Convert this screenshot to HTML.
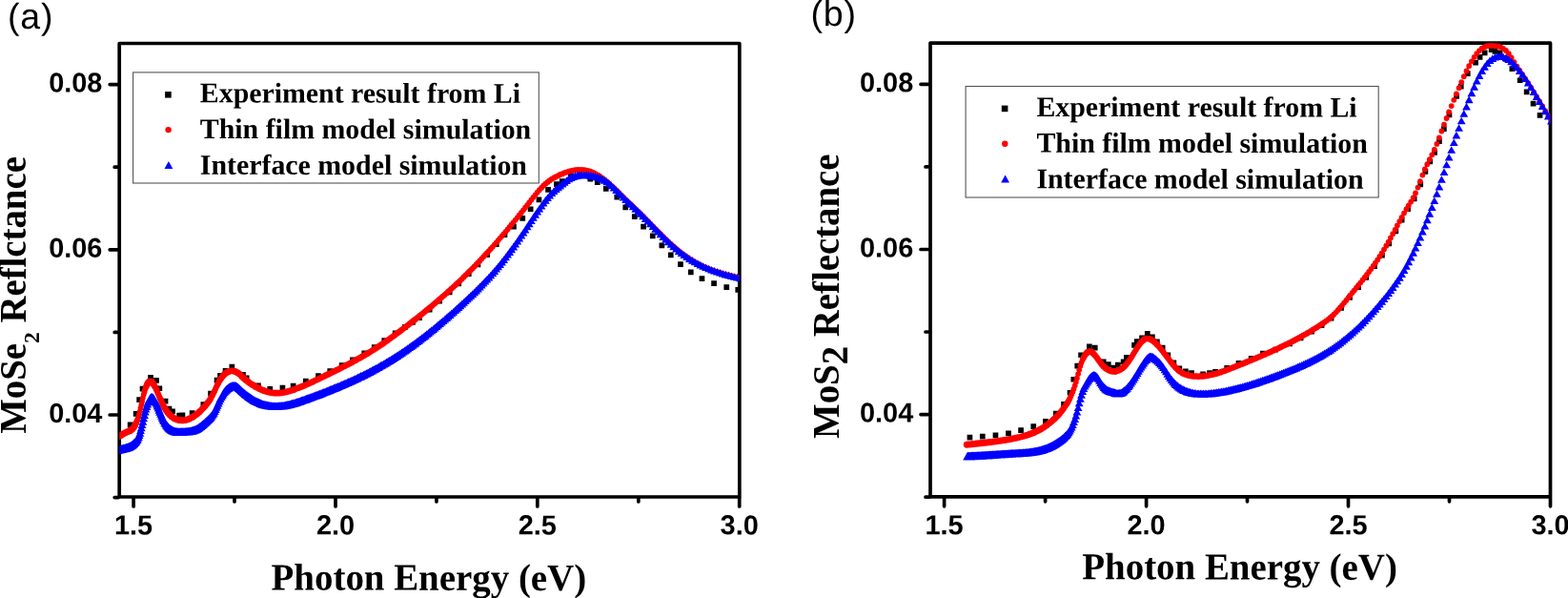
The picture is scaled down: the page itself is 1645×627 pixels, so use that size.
<!DOCTYPE html>
<html lang="en"><head><meta charset="utf-8"><title>Reflectance spectra</title>
<style>html,body{margin:0;padding:0;background:#fff;overflow:hidden}svg{display:block}</style></head><body>
<svg width="1645" height="627" viewBox="0 0 1645 627">
<rect width="1645" height="627" fill="#fff"/>
<clipPath id="ca"><rect x="125.2" y="45.5" width="650.6" height="475.5"/></clipPath>
<g stroke="#000" stroke-width="3.7" stroke-linecap="round" stroke-linejoin="round" fill="none">
<rect x="125.2" y="45.5" width="650.6" height="475.5"/>
<path d="M140.1 522v9.0M352 522v9.0M563.8 522v9.0M775.7 522v9.0M246 522v4.0M457.9 522v4.0M669.8 522v4.0M124.2 435h-9.0M124.2 261.8h-9.0M124.2 88.6h-9.0M124.2 521.6h-4.0M124.2 348.4h-4.0M124.2 175.2h-4.0"/></g>
<g clip-path="url(#ca)">
<path d="M133.8 442.5h5.7v5.7h-5.7zM139.8 431h5.7v5.7h-5.7zM143.3 416.3h5.7v5.7h-5.7zM146.7 404.8h5.7v5.7h-5.7zM155.2 393h5.7v5.7h-5.7zM161.2 396h5.7v5.7h-5.7zM164.5 404.4h5.7v5.7h-5.7zM170.7 417.8h5.7v5.7h-5.7zM174.6 425.7h5.7v5.7h-5.7zM178.2 428.4h5.7v5.7h-5.7zM185.3 432.7h5.7v5.7h-5.7zM188.6 432.5h5.7v5.7h-5.7zM198.8 430.2h5.7v5.7h-5.7zM210.5 421.2h5.7v5.7h-5.7zM218.2 409.8h5.7v5.7h-5.7zM224.7 395.7h5.7v5.7h-5.7zM228.2 390.9h5.7v5.7h-5.7zM233.7 386.1h5.7v5.7h-5.7zM240.5 381.7h5.7v5.7h-5.7zM252.1 389.9h5.7v5.7h-5.7zM255.8 393.5h5.7v5.7h-5.7zM268.1 401.6h5.7v5.7h-5.7zM280.4 405.1h5.7v5.7h-5.7zM293.6 403.8h5.7v5.7h-5.7zM304.8 401.7h5.7v5.7h-5.7zM318 396.8h5.7v5.7h-5.7zM331.1 391.2h5.7v5.7h-5.7zM343.4 386.2h5.7v5.7h-5.7zM355.8 380.3h5.7v5.7h-5.7zM367.1 374.5h5.7v5.7h-5.7zM379.4 367.5h5.7v5.7h-5.7zM389.9 361.3h5.7v5.7h-5.7zM400.4 354.3h5.7v5.7h-5.7zM411.8 346.4h5.7v5.7h-5.7zM422.1 340h5.7v5.7h-5.7zM430.1 335h5.7v5.7h-5.7zM536.1 234.8h5.7v5.7h-5.7zM545.4 226h5.7v5.7h-5.7zM553.8 216.4h5.7v5.7h-5.7zM562.6 206.5h5.7v5.7h-5.7zM572.2 196.1h5.7v5.7h-5.7zM581.1 190.2h5.7v5.7h-5.7zM586.9 187.2h5.7v5.7h-5.7zM595.9 181.8h5.7v5.7h-5.7zM605.1 180.8h5.7v5.7h-5.7zM616.4 184.9h5.7v5.7h-5.7zM623.9 188.3h5.7v5.7h-5.7zM632.9 195h5.7v5.7h-5.7zM644.4 203.8h5.7v5.7h-5.7zM653.4 214.6h5.7v5.7h-5.7zM662.9 224.3h5.7v5.7h-5.7zM672.2 234.8h5.7v5.7h-5.7zM681.9 244.6h5.7v5.7h-5.7zM691.5 254.5h5.7v5.7h-5.7zM700.9 264.5h5.7v5.7h-5.7zM711.1 274.3h5.7v5.7h-5.7zM721.9 282.5h5.7v5.7h-5.7zM733.6 289.2h5.7v5.7h-5.7zM746.2 294.3h5.7v5.7h-5.7zM759.4 298.3h5.7v5.7h-5.7zM771.4 301h5.7v5.7h-5.7zM437.1 330.3h5.7v5.7h-5.7zM447.8 321.7h5.7v5.7h-5.7zM458.2 312.9h5.7v5.7h-5.7zM468.8 303.6h5.7v5.7h-5.7zM478.4 294.6h5.7v5.7h-5.7zM488.9 284.4h5.7v5.7h-5.7zM498.6 274.5h5.7v5.7h-5.7zM508.2 264.2h5.7v5.7h-5.7zM517.9 253.4h5.7v5.7h-5.7zM526.6 243.3h5.7v5.7h-5.7z" fill="#000"/>
<path d="M776.6 291.6h0M773.5 290.7h0M770.4 289.9h0M767.4 289.1h0M764.4 288.3h0M761.3 287.6h0M758.3 286.8h0M755.4 285.9h0M752.4 285h0M749.4 284.1h0M746.5 283h0M743.6 281.9h0M740.6 280.7h0M737.7 279.4h0M734.9 278h0M732 276.5h0M729.1 274.9h0M726.3 273.2h0M723.4 271.4h0M720.6 269.5h0M717.8 267.5h0M715 265.4h0M712.2 263.2h0M709.5 260.9h0M706.7 258.5h0M704 256h0M701.2 253.5h0M698.5 250.9h0M695.8 248.2h0M693.1 245.5h0M690.4 242.8h0M687.7 240.1h0M685.1 237.4h0M682.4 234.7h0M679.8 232h0M677.2 229.4h0M674.6 226.7h0M672 224.2h0M669.4 221.6h0M666.8 219.1h0M664.2 216.7h0M661.7 214.2h0M659.1 211.8h0M656.6 209.3h0M654.1 206.9h0M651.6 204.4h0M649.1 202h0M646.6 199.5h0M644.1 197.1h0M641.6 194.8h0M639.2 192.5h0M636.7 190.4h0M634.3 188.4h0M631.9 186.6h0M629.5 184.9h0M570.1 194.7h0M568 196.9h0M565.8 199.2h0M563.7 201.7h0M561.6 204.3h0M559.4 207h0M557.3 209.7h0M555.2 212.4h0M553.1 215.1h0M551 217.7h0M549 220.3h0M546.9 222.9h0M544.8 225.5h0M542.8 228.1h0M540.7 230.6h0M538.7 233.1h0M536.6 235.5h0M534.6 238h0M532.6 240.4h0M530.6 242.8h0M528.6 245.1h0M526.6 247.5h0M524.6 249.8h0M522.6 252.1h0M520.7 254.3h0M518.7 256.6h0M516.8 258.8h0M514.8 261h0M150.7 413.7h0M149.9 417.1h0M149.1 420.7h0M148.3 424.3h0M147.5 427.9h0M146.8 431.3h0M146 434.4h0" stroke="#f00" stroke-width="5.80" stroke-linecap="round" fill="none"/>
<path d="M627.1 183.4h0M624.7 182.1h0M574.5 190.9h0M572.3 192.7h0M512.9 263.1h0M510.9 265.2h0M509 267.3h0M507.1 269.4h0M505.2 271.5h0M503.3 273.5h0M501.4 275.5h0M499.5 277.5h0M497.6 279.4h0M151.5 410.7h0M145.2 437.1h0" stroke="#f00" stroke-width="5.90" stroke-linecap="round" fill="none"/>
<path d="M622.3 180.9h0M619.9 180h0M581.1 186.5h0M578.9 187.8h0M576.7 189.3h0M495.7 281.4h0M493.9 283.3h0M492 285.1h0M490.2 287h0M488.3 288.8h0M486.5 290.6h0M484.7 292.4h0M482.8 294.2h0M481 295.9h0M144.4 439.5h0" stroke="#f00" stroke-width="6.00" stroke-linecap="round" fill="none"/>
<path d="M617.6 179.2h0M615.2 178.7h0M612.9 178.3h0M610.5 178.1h0M608.2 178h0M605.9 178.1h0M603.6 178.3h0M601.3 178.7h0M599 179.2h0M596.7 179.8h0M594.5 180.5h0M592.2 181.3h0M590 182.2h0M587.7 183.1h0M585.5 184.2h0M583.3 185.3h0M479.2 297.6h0M477.4 299.3h0M475.6 301h0M473.8 302.6h0M472 304.3h0M470.2 305.9h0M468.5 307.5h0M466.7 309h0M464.9 310.6h0M463.2 312.1h0M461.4 313.6h0M227.1 405.5h0M226.2 407.6h0M225.2 409.8h0M152.3 408.1h0" stroke="#f00" stroke-width="6.10" stroke-linecap="round" fill="none"/>
<path d="M459.7 315.1h0M458 316.6h0M456.2 318.1h0M454.5 319.6h0M452.8 321h0M451.1 322.4h0M449.4 323.8h0M447.7 325.2h0M446 326.6h0M444.3 328h0M442.6 329.3h0M441 330.7h0M439.3 332h0M437.6 333.3h0M436 334.7h0M228.1 403.4h0M224.2 411.8h0M223.2 413.8h0M167.8 417.4h0M167 415.5h0M166.2 413.5h0M165.3 411.5h0M164.5 409.5h0M143.6 441.7h0" stroke="#f00" stroke-width="6.20" stroke-linecap="round" fill="none"/>
<path d="M434.3 336h0M432.7 337.2h0M431.1 338.5h0M429.4 339.8h0M427.8 341.1h0M426.2 342.3h0M424.6 343.5h0M423 344.8h0M421.4 346h0M419.8 347.2h0M418.2 348.4h0M416.6 349.6h0M415 350.7h0M413.4 351.9h0M411.9 353.1h0M410.3 354.2h0M408.7 355.3h0M407.2 356.4h0M230.1 399.5h0M229.1 401.4h0M222.2 415.6h0M221.2 417.3h0M170.4 423.1h0M169.5 421.3h0M168.7 419.4h0M163.7 407.7h0M162.8 405.9h0M153.1 405.8h0M142.8 443.5h0" stroke="#f00" stroke-width="6.30" stroke-linecap="round" fill="none"/>
<path d="M405.6 357.5h0M404.1 358.6h0M402.6 359.7h0M401 360.7h0M399.5 361.7h0M398 362.8h0M396.5 363.8h0M394.9 364.8h0M393.4 365.7h0M391.9 366.7h0M390.4 367.6h0M388.9 368.6h0M387.5 369.5h0M386 370.4h0M384.5 371.2h0M383 372.1h0M231.1 397.9h0M220.3 418.9h0M219.3 420.4h0M218.3 421.8h0M172 426.4h0M171.2 424.8h0M162 404.4h0M153.9 403.9h0M142.1 445.2h0" stroke="#f00" stroke-width="6.40" stroke-linecap="round" fill="none"/>
<path d="M381.6 373h0M380.1 373.8h0M378.6 374.7h0M377.2 375.5h0M375.7 376.3h0M374.3 377.1h0M372.9 377.9h0M371.4 378.6h0M370 379.4h0M368.6 380.2h0M367.2 380.9h0M365.7 381.7h0M364.3 382.4h0M362.9 383.1h0M361.5 383.9h0M360.1 384.6h0M358.7 385.3h0M357.4 386h0M356 386.7h0M354.6 387.4h0M353.2 388h0M351.9 388.7h0M350.5 389.4h0M349.1 390.1h0M347.8 390.7h0M346.4 391.4h0M345.1 392.1h0M233.2 395h0M232.1 396.4h0M217.3 423.1h0M216.4 424.3h0M215.4 425.5h0M173.8 429.3h0M172.9 427.9h0M161.2 403h0M141.3 446.6h0" stroke="#f00" stroke-width="6.50" stroke-linecap="round" fill="none"/>
<path d="M343.7 392.7h0M342.4 393.4h0M341.1 394h0M339.7 394.7h0M338.4 395.3h0M337.1 396h0M335.8 396.6h0M334.5 397.3h0M333.1 397.9h0M331.8 398.5h0M330.5 399.1h0M329.2 399.8h0M328 400.4h0M326.7 401h0M325.4 401.6h0M324.1 402.1h0M322.8 402.7h0M321.5 403.3h0M320.3 403.8h0M319 404.4h0M317.8 404.9h0M316.5 405.4h0M315.2 405.9h0M314 406.4h0M312.7 406.9h0M311.5 407.3h0M310.3 407.8h0M309 408.2h0M263.7 402.7h0M262.6 402h0M261.5 401.2h0M260.4 400.4h0M259.3 399.6h0M258.2 398.8h0M257.2 397.9h0M256.1 396.9h0M255 395.9h0M253.9 394.9h0M252.9 393.8h0M251.8 392.8h0M250.8 391.9h0M249.7 391.1h0M235.2 392.8h0M234.2 393.8h0M214.4 426.6h0M213.5 427.6h0M212.5 428.6h0M211.6 429.6h0M210.6 430.5h0M209.7 431.4h0M176.3 433h0M175.5 431.9h0M174.6 430.7h0M160.4 401.8h0M154.7 402.4h0M140.5 447.8h0" stroke="#f00" stroke-width="6.60" stroke-linecap="round" fill="none"/>
<path d="M307.8 408.7h0M306.6 409.1h0M305.4 409.4h0M304.1 409.8h0M302.9 410.2h0M301.7 410.5h0M300.5 410.8h0M299.3 411.1h0M298.1 411.4h0M296.9 411.6h0M295.7 411.8h0M294.5 411.9h0M293.3 412.1h0M292.1 412.1h0M291 412.2h0M289.8 412.2h0M288.6 412.1h0M287.5 412.1h0M286.3 411.9h0M285.1 411.8h0M284 411.6h0M282.8 411.3h0M281.7 411.1h0M280.5 410.8h0M279.4 410.4h0M278.2 410.1h0M277.1 409.7h0M276 409.2h0M274.8 408.8h0M273.7 408.3h0M272.6 407.7h0M271.5 407.2h0M270.3 406.6h0M269.2 406h0M268.1 405.4h0M267 404.7h0M265.9 404.1h0M264.8 403.4h0M248.6 390.4h0M247.6 389.8h0M246.5 389.4h0M239.3 389.8h0M238.2 390.4h0M237.2 391h0M236.2 391.8h0M208.7 432.3h0M207.8 433.1h0M206.9 433.9h0M205.9 434.6h0M205 435.3h0M204 436h0M203.1 436.6h0M179.8 436.5h0M178.9 435.8h0M178 434.9h0M177.2 434h0M159.6 400.9h0M155.5 401.3h0M139.8 448.8h0M139 449.6h0" stroke="#f00" stroke-width="6.70" stroke-linecap="round" fill="none"/>
<path d="M245.5 389.1h0M244.4 388.9h0M243.4 388.8h0M242.4 388.9h0M241.3 389.1h0M240.3 389.4h0M202.2 437.2h0M201.3 437.8h0M200.3 438.3h0M199.4 438.7h0M198.5 439.2h0M197.6 439.5h0M196.7 439.9h0M195.8 440.1h0M194.9 440.4h0M194 440.6h0M193 440.7h0M192.1 440.8h0M187.7 440.5h0M186.8 440.3h0M185.9 440h0M185 439.7h0M184.1 439.3h0M183.3 438.9h0M182.4 438.4h0M181.5 437.8h0M180.6 437.2h0M158.7 400.3h0M156.3 400.5h0M138.2 450.4h0M137.5 450.9h0M136.7 451.4h0" stroke="#f00" stroke-width="6.80" stroke-linecap="round" fill="none"/>
<path d="M191.2 440.8h0M190.4 440.8h0M189.5 440.8h0M188.6 440.6h0M157.9 400h0M157.1 400h0M135.9 451.8h0M135.2 452.2h0M134.4 452.5h0M133.7 452.8h0M132.9 453.1h0M132.2 453.5h0M131.4 453.8h0M130.7 454.2h0M129.9 454.6h0M129.2 455h0M128.4 455.5h0M127.7 455.9h0M127 456.4h0M126.2 456.8h0M125.5 457.2h0M124.8 457.6h0M124 458.1h0M123.3 458.5h0M122.6 458.8h0" stroke="#f00" stroke-width="6.90" stroke-linecap="round" fill="none"/>
<path d="M776.6 287.6l4.4 7.6h-8.8zM773.5 286.9l4.4 7.6h-8.8zM770.4 286.2l4.4 7.6h-8.8zM767.4 285.4l4.4 7.6h-8.8zM764.4 284.6l4.4 7.6h-8.8zM761.3 283.8l4.4 7.6h-8.8zM758.3 282.9l4.4 7.6h-8.8zM755.4 282l4.4 7.6h-8.8zM752.4 281l4.4 7.6h-8.8zM749.4 280l4.4 7.6h-8.8zM746.5 278.9l4.4 7.6h-8.8zM743.6 277.7l4.4 7.6h-8.8zM740.6 276.5l4.4 7.6h-8.8zM737.7 275.2l4.4 7.6h-8.8zM734.9 273.8l4.4 7.6h-8.8zM732 272.3l4.4 7.6h-8.8zM729.1 270.7l4.4 7.6h-8.8zM726.3 269.1l4.4 7.6h-8.8zM723.4 267.3l4.4 7.6h-8.8zM720.6 265.5l4.4 7.6h-8.8zM717.8 263.5l4.4 7.6h-8.8zM715 261.5l4.4 7.6h-8.8zM712.2 259.3l4.4 7.6h-8.8zM709.5 257l4.4 7.6h-8.8zM706.7 254.6l4.4 7.6h-8.8zM704 252.2l4.4 7.6h-8.8zM701.2 249.6l4.4 7.6h-8.8zM698.5 247l4.4 7.6h-8.8zM695.8 244.3l4.4 7.6h-8.8zM693.1 241.6l4.4 7.6h-8.8zM690.4 238.8l4.4 7.6h-8.8zM687.7 236.1l4.4 7.6h-8.8zM685.1 233.4l4.4 7.6h-8.8zM682.4 230.6l4.4 7.6h-8.8zM679.8 227.9l4.4 7.6h-8.8zM677.2 225.3l4.4 7.6h-8.8zM674.6 222.6l4.4 7.6h-8.8zM672 220.1l4.4 7.6h-8.8zM669.4 217.6l4.4 7.6h-8.8zM666.8 215.1l4.4 7.6h-8.8zM664.2 212.6l4.4 7.6h-8.8zM661.7 210.2l4.4 7.6h-8.8zM659.1 207.8l4.4 7.6h-8.8zM656.6 205.4l4.4 7.6h-8.8zM654.1 202.9l4.4 7.6h-8.8zM651.6 200.5l4.4 7.6h-8.8zM649.1 198l4.4 7.6h-8.8zM646.6 195.5l4.4 7.6h-8.8zM644.1 193l4.4 7.6h-8.8zM641.6 190.7l4.4 7.6h-8.8zM639.2 188.5l4.4 7.6h-8.8zM636.7 186.7l4.4 7.6h-8.8zM634.3 185.1l4.4 7.7h-8.8zM631.9 183.7l4.4 7.7h-8.9zM629.5 182.6l4.5 7.8h-8.9zM627.1 181.7l4.5 7.8h-9zM624.7 181l4.5 7.9h-9zM622.3 180.4l4.5 7.9h-9zM619.9 180l4.5 7.9h-9zM617.6 179.7l4.5 7.9h-9zM615.2 179.6l4.5 7.9h-9zM612.9 179.5l4.5 7.9h-9zM610.5 179.4l4.5 7.9h-9zM608.2 179.5l4.5 7.9h-9zM605.9 179.8l4.5 7.9h-9zM603.6 180.3l4.5 7.9h-9zM601.3 181l4.5 7.9h-9zM599 182.1l4.5 7.8h-9zM596.7 183.5l4.5 7.8h-8.9zM594.5 185.2l4.4 7.7h-8.9zM592.2 187.1l4.4 7.6h-8.8zM590 189l4.4 7.6h-8.8zM587.7 190.8l4.4 7.7h-8.9zM585.5 192.5l4.4 7.7h-8.9zM583.3 194.3l4.4 7.7h-8.9zM581.1 196.3l4.4 7.6h-8.8zM578.9 198.5l4.4 7.6h-8.8zM576.7 200.9l4.4 7.6h-8.8zM574.5 203.4l4.4 7.6h-8.8zM572.3 206.1l4.4 7.6h-8.8zM570.1 209l4.4 7.6h-8.8zM568 211.9l4.4 7.6h-8.8zM565.8 214.9l4.4 7.6h-8.8zM563.7 218l4.4 7.6h-8.8zM561.6 221.1l4.4 7.6h-8.8zM559.4 224.2l4.4 7.6h-8.8zM557.3 227.4l4.4 7.6h-8.8zM555.2 230.6l4.4 7.6h-8.8zM553.1 233.7l4.4 7.6h-8.8zM551 236.9l4.4 7.6h-8.8zM549 240l4.4 7.6h-8.8zM546.9 243l4.4 7.6h-8.8zM544.8 246l4.4 7.6h-8.8zM542.8 249l4.4 7.6h-8.8zM540.7 251.9l4.4 7.6h-8.8zM538.7 254.8l4.4 7.6h-8.8zM536.6 257.6l4.4 7.6h-8.8zM534.6 260.3l4.4 7.6h-8.8zM532.6 263l4.4 7.6h-8.8zM530.6 265.7l4.4 7.6h-8.8zM528.6 268.3l4.4 7.6h-8.8zM526.6 270.8l4.4 7.6h-8.8zM524.6 273.3l4.4 7.6h-8.8zM522.6 275.7l4.4 7.6h-8.8zM520.7 278l4.4 7.6h-8.8zM518.7 280.3l4.4 7.6h-8.8zM516.8 282.5l4.4 7.6h-8.8zM514.8 284.7l4.4 7.6h-8.8zM512.9 286.8l4.4 7.7h-8.8zM510.9 288.9l4.4 7.7h-8.9zM509 290.9l4.4 7.7h-8.9zM507.1 292.9l4.4 7.7h-8.9zM505.2 294.9l4.4 7.7h-8.9zM503.3 296.8l4.5 7.7h-8.9zM501.4 298.7l4.5 7.8h-8.9zM499.5 300.6l4.5 7.8h-8.9zM497.6 302.4l4.5 7.8h-8.9zM495.7 304.2l4.5 7.8h-8.9zM493.9 306l4.5 7.8h-9zM492 307.8l4.5 7.8h-9zM490.2 309.5l4.5 7.8h-9zM488.3 311.2l4.5 7.8h-9zM486.5 312.9l4.5 7.8h-9zM484.7 314.6l4.5 7.9h-9zM482.8 316.3l4.5 7.9h-9zM481 318l4.5 7.9h-9zM479.2 319.6l4.5 7.9h-9zM477.4 321.2l4.5 7.9h-9zM475.6 322.9l4.5 7.9h-9zM473.8 324.4l4.5 7.9h-9zM472 326l4.5 7.9h-9zM470.2 327.6l4.5 7.9h-9zM468.5 329.1l4.5 7.9h-9zM466.7 330.7l4.5 7.9h-9zM464.9 332.2l4.5 7.9h-9zM463.2 333.7l4.5 7.9h-9.1zM461.4 335.1l4.5 8h-9.1zM459.7 336.6l4.5 8h-9.1zM458 338l4.5 8h-9.1zM456.2 339.5l4.5 8h-9.1zM454.5 340.9l4.5 8h-9.1zM452.8 342.3l4.5 8h-9.1zM451.1 343.6l4.5 8h-9.1zM449.4 345l4.5 8h-9.1zM447.7 346.3l4.6 8h-9.1zM446 347.7l4.6 8h-9.1zM444.3 349l4.6 8h-9.1zM442.6 350.3l4.6 8h-9.1zM441 351.5l4.6 8h-9.1zM439.3 352.8l4.6 8.1h-9.1zM437.6 354l4.6 8.1h-9.1zM436 355.3l4.6 8.1h-9.1zM434.3 356.5l4.6 8.1h-9.1zM432.7 357.7l4.6 8.1h-9.2zM431.1 358.8l4.6 8.1h-9.2zM429.4 360l4.6 8.1h-9.2zM427.8 361.2l4.6 8.1h-9.2zM426.2 362.3l4.6 8.1h-9.2zM424.6 363.4l4.6 8.1h-9.2zM423 364.5l4.6 8.1h-9.2zM421.4 365.6l4.6 8.1h-9.2zM419.8 366.7l4.6 8.1h-9.2zM418.2 367.7l4.6 8.1h-9.2zM416.6 368.7l4.6 8.2h-9.2zM415 369.8l4.6 8.2h-9.2zM413.4 370.8l4.6 8.2h-9.2zM411.9 371.8l4.6 8.2h-9.2zM410.3 372.7l4.6 8.2h-9.2zM408.7 373.7l4.6 8.2h-9.2zM407.2 374.6l4.6 8.2h-9.2zM405.6 375.6l4.6 8.2h-9.2zM404.1 376.5l4.6 8.2h-9.2zM402.6 377.4l4.6 8.2h-9.2zM401 378.3l4.6 8.2h-9.2zM399.5 379.1l4.6 8.2h-9.3zM398 380l4.6 8.2h-9.3zM396.5 380.9l4.6 8.2h-9.3zM394.9 381.7l4.6 8.2h-9.3zM393.4 382.5l4.6 8.2h-9.3zM391.9 383.3l4.6 8.2h-9.3zM390.4 384.1l4.6 8.3h-9.3zM388.9 384.9l4.6 8.3h-9.3zM387.5 385.7l4.6 8.3h-9.3zM386 386.5l4.6 8.3h-9.3zM384.5 387.2l4.6 8.3h-9.3zM383 387.9l4.6 8.3h-9.3zM381.6 388.7l4.6 8.3h-9.3zM380.1 389.4l4.6 8.3h-9.3zM378.6 390.1l4.7 8.3h-9.3zM377.2 390.8l4.7 8.3h-9.3zM375.7 391.5l4.7 8.3h-9.3zM374.3 392.2l4.7 8.3h-9.3zM372.9 392.9l4.7 8.3h-9.3zM371.4 393.5l4.7 8.3h-9.3zM370 394.2l4.7 8.3h-9.3zM368.6 394.9l4.7 8.3h-9.3zM367.2 395.5l4.7 8.3h-9.3zM365.7 396.1l4.7 8.3h-9.3zM364.3 396.8l4.7 8.3h-9.3zM362.9 397.4l4.7 8.3h-9.3zM361.5 398l4.7 8.3h-9.3zM360.1 398.6l4.7 8.3h-9.3zM358.7 399.2l4.7 8.3h-9.3zM357.4 399.8l4.7 8.3h-9.3zM356 400.4l4.7 8.3h-9.3zM354.6 400.9l4.7 8.4h-9.3zM353.2 401.5l4.7 8.4h-9.3zM351.9 402.1l4.7 8.4h-9.4zM350.5 402.6l4.7 8.4h-9.4zM349.1 403.2l4.7 8.4h-9.4zM347.8 403.7l4.7 8.4h-9.4zM346.4 404.3l4.7 8.4h-9.4zM345.1 404.8l4.7 8.4h-9.4zM343.7 405.4l4.7 8.4h-9.4zM342.4 405.9l4.7 8.4h-9.4zM341.1 406.4l4.7 8.4h-9.4zM339.7 406.9l4.7 8.4h-9.4zM338.4 407.4l4.7 8.4h-9.4zM337.1 408l4.7 8.4h-9.4zM335.8 408.5l4.7 8.4h-9.4zM334.5 409l4.7 8.4h-9.4zM333.1 409.5l4.7 8.4h-9.4zM331.8 410l4.7 8.4h-9.4zM330.5 410.4l4.7 8.4h-9.4zM329.2 410.9l4.7 8.4h-9.4zM328 411.4l4.7 8.4h-9.4zM326.7 411.9l4.7 8.4h-9.4zM325.4 412.4l4.7 8.4h-9.4zM324.1 412.8l4.7 8.4h-9.4zM322.8 413.3l4.7 8.4h-9.4zM321.5 413.8l4.7 8.4h-9.4zM320.3 414.3l4.7 8.4h-9.4zM319 414.7l4.7 8.4h-9.4zM317.8 415.2l4.7 8.4h-9.4zM316.5 415.6l4.7 8.4h-9.4zM315.2 416l4.7 8.4h-9.4zM314 416.5l4.7 8.4h-9.4zM312.7 416.9l4.7 8.4h-9.4zM311.5 417.3l4.7 8.4h-9.4zM310.3 417.7l4.7 8.5h-9.4zM309 418.1l4.7 8.5h-9.4zM307.8 418.4l4.7 8.5h-9.4zM306.6 418.8l4.7 8.5h-9.4zM305.4 419.1l4.7 8.5h-9.4zM304.1 419.4l4.7 8.5h-9.4zM302.9 419.7l4.7 8.5h-9.4zM301.7 420l4.7 8.5h-9.4zM300.5 420.2l4.7 8.5h-9.4zM299.3 420.5l4.7 8.5h-9.4zM298.1 420.7l4.7 8.5h-9.4zM296.9 420.9l4.7 8.5h-9.5zM295.7 421l4.7 8.5h-9.5zM294.5 421.2l4.7 8.5h-9.5zM293.3 421.3l4.7 8.5h-9.5zM292.1 421.3l4.7 8.5h-9.5zM291 421.4l4.7 8.5h-9.5zM289.8 421.4l4.7 8.5h-9.5zM288.6 421.4l4.7 8.5h-9.5zM287.5 421.4l4.7 8.5h-9.5zM286.3 421.4l4.7 8.5h-9.5zM285.1 421.3l4.7 8.5h-9.5zM284 421.1l4.7 8.5h-9.5zM282.8 421l4.7 8.5h-9.5zM281.7 420.8l4.7 8.5h-9.5zM280.5 420.6l4.7 8.5h-9.5zM279.4 420.3l4.7 8.5h-9.5zM278.2 420l4.7 8.5h-9.5zM277.1 419.7l4.7 8.5h-9.5zM276 419.4l4.7 8.5h-9.5zM274.8 419l4.7 8.5h-9.5zM273.7 418.6l4.7 8.5h-9.5zM272.6 418.1l4.7 8.5h-9.4zM271.5 417.6l4.7 8.5h-9.4zM270.3 417.1l4.7 8.5h-9.4zM269.2 416.6l4.7 8.5h-9.4zM268.1 416l4.7 8.5h-9.4zM267 415.4l4.7 8.5h-9.4zM265.9 414.7l4.7 8.5h-9.4zM264.8 414l4.7 8.5h-9.4zM263.7 413.3l4.7 8.4h-9.4zM262.6 412.6l4.7 8.4h-9.4zM261.5 411.8l4.7 8.4h-9.4zM260.4 411l4.7 8.4h-9.4zM259.3 410.2l4.7 8.4h-9.4zM258.2 409.4l4.7 8.4h-9.4zM257.2 408.5l4.7 8.4h-9.4zM256.1 407.6l4.7 8.4h-9.4zM255 406.7l4.7 8.4h-9.4zM253.9 405.7l4.7 8.4h-9.4zM252.9 404.7l4.7 8.4h-9.4zM251.8 403.7l4.7 8.4h-9.4zM250.8 402.7l4.7 8.4h-9.4zM249.7 401.8l4.7 8.4h-9.4zM248.6 400.9l4.7 8.4h-9.4zM247.6 400.3l4.7 8.5h-9.5zM246.5 400l4.7 8.5h-9.5zM245.5 399.9l4.8 8.6h-9.5zM244.4 400l4.8 8.6h-9.5zM243.4 400.3l4.7 8.6h-9.5zM242.4 400.7l4.7 8.5h-9.5zM241.3 401.1l4.7 8.5h-9.5zM240.3 401.7l4.7 8.5h-9.5zM239.3 402.4l4.7 8.5h-9.4zM238.2 403.3l4.7 8.4h-9.4zM237.2 404.3l4.7 8.4h-9.4zM236.2 405.5l4.7 8.3h-9.3zM235.2 406.8l4.6 8.3h-9.3zM234.2 408.3l4.6 8.2h-9.2zM233.2 410.1l4.6 8.1h-9.2zM232.1 412l4.6 8h-9.1zM231.1 414.1l4.5 8h-9.1zM230.1 416.3l4.5 7.9h-9zM229.1 418.5l4.5 7.9h-9zM228.1 420.8l4.5 7.9h-9zM227.1 422.9l4.5 7.9h-9zM226.2 425l4.5 7.9h-9.1zM225.2 426.9l4.5 8h-9.1zM224.2 428.6l4.6 8.1h-9.2zM223.2 430.1l4.6 8.2h-9.2zM222.2 431.3l4.6 8.3h-9.3zM221.2 432.5l4.7 8.3h-9.3zM220.3 433.5l4.7 8.4h-9.4zM219.3 434.5l4.7 8.4h-9.4zM218.3 435.5l4.7 8.4h-9.4zM217.3 436.4l4.7 8.4h-9.4zM216.4 437.3l4.7 8.4h-9.4zM215.4 438.3l4.7 8.4h-9.4zM214.4 439.2l4.7 8.4h-9.4zM213.5 440l4.7 8.5h-9.4zM212.5 440.8l4.7 8.5h-9.4zM211.6 441.6l4.7 8.5h-9.4zM210.6 442.4l4.7 8.5h-9.4zM209.7 443.1l4.7 8.5h-9.5zM208.7 443.8l4.7 8.5h-9.5zM207.8 444.4l4.7 8.5h-9.5zM206.9 444.9l4.7 8.6h-9.5zM205.9 445.4l4.8 8.6h-9.5zM205 445.9l4.8 8.6h-9.5zM204 446.2l4.8 8.6h-9.5zM203.1 446.6l4.8 8.6h-9.5zM202.2 446.9l4.8 8.6h-9.5zM201.3 447.1l4.8 8.6h-9.5zM200.3 447.4l4.8 8.6h-9.5zM199.4 447.5l4.8 8.6h-9.5zM198.5 447.7l4.8 8.6h-9.6zM197.6 447.8l4.8 8.6h-9.6zM196.7 447.9l4.8 8.6h-9.6zM195.8 448l4.8 8.6h-9.6zM194.9 448.1l4.8 8.6h-9.6zM194 448.2l4.8 8.6h-9.6zM193 448.2l4.8 8.6h-9.6zM192.1 448.3l4.8 8.6h-9.6zM191.2 448.3l4.8 8.7h-9.6zM190.4 448.3l4.8 8.7h-9.6zM189.5 448.3l4.8 8.7h-9.6zM188.6 448.4l4.8 8.7h-9.6zM187.7 448.3l4.8 8.7h-9.6zM186.8 448.3l4.8 8.7h-9.6zM185.9 448.2l4.8 8.7h-9.6zM185 448.1l4.8 8.7h-9.6zM184.1 447.9l4.8 8.7h-9.6zM183.3 447.7l4.8 8.6h-9.6zM182.4 447.4l4.8 8.6h-9.6zM181.5 447l4.8 8.6h-9.5zM180.6 446.6l4.8 8.6h-9.5zM179.8 446.1l4.8 8.6h-9.5zM178.9 445.5l4.8 8.6h-9.5zM178 444.8l4.7 8.5h-9.5zM177.2 444l4.7 8.5h-9.5zM176.3 443.1l4.7 8.5h-9.4zM175.5 442.1l4.7 8.4h-9.4zM174.6 441l4.7 8.4h-9.4zM173.8 439.8l4.7 8.3h-9.3zM172.9 438.4l4.7 8.3h-9.3zM172 436.9l4.6 8.2h-9.3zM171.2 435.3l4.6 8.2h-9.2zM170.4 433.6l4.6 8.1h-9.2zM169.5 431.7l4.6 8.1h-9.1zM168.7 429.8l4.6 8h-9.1zM167.8 427.8l4.5 8h-9.1zM167 425.7l4.5 8h-9.1zM166.2 423.6l4.5 8h-9.1zM165.3 421.5l4.5 8h-9.1zM164.5 419.5l4.6 8h-9.1zM163.7 417.6l4.6 8.1h-9.2zM162.8 415.9l4.6 8.2h-9.2zM162 414.5l4.6 8.3h-9.3zM161.2 413.3l4.7 8.4h-9.4zM160.4 412.5l4.7 8.5h-9.5zM159.6 412.1l4.8 8.7h-9.6zM158.7 412.1l4.8 8.7h-9.6zM157.9 412.7l4.8 8.6h-9.5zM157.1 413.8l4.7 8.5h-9.4zM156.3 415.3l4.6 8.3h-9.3zM155.5 417.2l4.6 8.1h-9.2zM154.7 419.5l4.5 7.9h-9zM153.9 422.1l4.5 7.8h-8.9zM153.1 424.9l4.4 7.6h-8.8zM152.3 428l4.4 7.6h-8.8zM151.5 431.3l4.4 7.6h-8.8zM150.7 434.7l4.4 7.6h-8.8zM149.9 438.1l4.4 7.6h-8.8zM149.1 441.4l4.4 7.6h-8.8zM148.3 444.6l4.4 7.6h-8.8zM147.5 447.5l4.4 7.6h-8.8zM146.8 449.9l4.5 7.8h-8.9zM146 452l4.5 7.9h-9zM145.2 453.8l4.6 8.1h-9.2zM144.4 455.3l4.6 8.2h-9.2zM143.6 456.6l4.7 8.3h-9.3zM142.8 457.8l4.7 8.4h-9.4zM142.1 458.7l4.7 8.5h-9.4zM141.3 459.6l4.7 8.5h-9.5zM140.5 460.3l4.7 8.6h-9.5zM139.8 461l4.8 8.6h-9.5zM139 461.7l4.8 8.6h-9.5zM138.2 462.2l4.8 8.6h-9.5zM137.5 462.7l4.8 8.6h-9.6zM136.7 463.2l4.8 8.7h-9.6zM135.9 463.6l4.8 8.7h-9.6zM135.2 464l4.8 8.7h-9.6zM134.4 464.3l4.8 8.7h-9.6zM133.7 464.6l4.8 8.7h-9.6zM132.9 464.8l4.8 8.7h-9.6zM132.2 465.1l4.8 8.7h-9.6zM131.4 465.3l4.8 8.7h-9.6zM130.7 465.5l4.8 8.7h-9.6zM129.9 465.6l4.8 8.7h-9.6zM129.2 465.8l4.8 8.7h-9.6zM128.4 466l4.8 8.7h-9.6zM127.7 466.2l4.8 8.7h-9.6zM127 466.3l4.8 8.7h-9.6zM126.2 466.5l4.8 8.7h-9.6zM125.5 466.7l4.8 8.7h-9.6zM124.8 466.9l4.8 8.7h-9.6zM124 467.1l4.8 8.7h-9.6zM123.3 467.4l4.8 8.7h-9.6zM122.6 467.6l4.8 8.7h-9.6z" fill="#00f"/>
</g>
<g font-family="'Liberation Sans', Arial, sans-serif" font-weight="bold" font-size="28.9px" fill="#000">
<text transform="translate(140.1 560.4) rotate(0.1) scale(1 1.0)" text-anchor="middle">1.5</text>
<text transform="translate(352 560.4) rotate(0.1) scale(1 1.0)" text-anchor="middle">2.0</text>
<text transform="translate(563.8 560.4) rotate(0.1) scale(1 1.0)" text-anchor="middle">2.5</text>
<text transform="translate(775.7 560.4) rotate(0.1) scale(1 1.0)" text-anchor="middle">3.0</text>
<text transform="translate(107.4 443) rotate(0.1) scale(1 1.0)" text-anchor="end">0.04</text>
<text transform="translate(107.4 269.8) rotate(0.1) scale(1 1.0)" text-anchor="end">0.06</text>
<text transform="translate(107.4 96.6) rotate(0.1) scale(1 1.0)" text-anchor="end">0.08</text>
</g>
<clipPath id="cb"><rect x="976" y="45.1" width="650.5" height="475.7"/></clipPath>
<g stroke="#000" stroke-width="3.7" stroke-linecap="round" stroke-linejoin="round" fill="none">
<rect x="976" y="45.1" width="650.5" height="475.7"/>
<path d="M990.6 521.8v9.0M1202.6 521.8v9.0M1414.5 521.8v9.0M1626.5 521.8v9.0M1096.6 521.8v4.0M1308.5 521.8v4.0M1520.5 521.8v4.0M975 434.6h-9.0M975 261.5h-9.0M975 88.3h-9.0M975 521.2h-4.0M975 348h-4.0M975 174.9h-4.0"/></g>
<g clip-path="url(#cb)">
<path d="M1014.6 455.8h5.7v5.7h-5.7zM1027.9 454.8h5.7v5.7h-5.7zM1041.6 453.6h5.7v5.7h-5.7zM1055.1 451.6h5.7v5.7h-5.7zM1068.2 448.3h5.7v5.7h-5.7zM1081.4 444.3h5.7v5.7h-5.7zM1094 439h5.7v5.7h-5.7zM1104.9 430.8h5.7v5.7h-5.7zM1113.2 421.1h5.7v5.7h-5.7zM1119.7 408.9h5.7v5.7h-5.7zM1123.5 394.9h5.7v5.7h-5.7zM1127.4 380.8h5.7v5.7h-5.7zM1131.2 369.4h5.7v5.7h-5.7zM1140 360.4h5.7v5.7h-5.7zM1145.9 361.8h5.7v5.7h-5.7zM1154.8 376.4h5.7v5.7h-5.7zM1159.9 379.2h5.7v5.7h-5.7zM1165.5 382.8h5.7v5.7h-5.7zM1170 379.8h5.7v5.7h-5.7zM1175.8 376.4h5.7v5.7h-5.7zM1179 371.9h5.7v5.7h-5.7zM1187.2 359.1h5.7v5.7h-5.7zM1189.9 355.3h5.7v5.7h-5.7zM1195.2 351.6h5.7v5.7h-5.7zM1200.9 346.9h5.7v5.7h-5.7zM1206 350.6h5.7v5.7h-5.7zM1211 355.4h5.7v5.7h-5.7zM1216.8 361.8h5.7v5.7h-5.7zM1222.5 369.6h5.7v5.7h-5.7zM1228.5 377.6h5.7v5.7h-5.7zM1234.5 383.6h5.7v5.7h-5.7zM1241 386.6h5.7v5.7h-5.7zM1247.2 388.3h5.7v5.7h-5.7zM1259.2 389.5h5.7v5.7h-5.7zM1266.2 388.3h5.7v5.7h-5.7zM1272.2 387h5.7v5.7h-5.7zM1284.4 383h5.7v5.7h-5.7zM1296.7 377.9h5.7v5.7h-5.7zM1309.8 372.9h5.7v5.7h-5.7zM1322.1 367.7h5.7v5.7h-5.7zM1335.2 363.8h5.7v5.7h-5.7zM1525.2 98.1h5.7v5.7h-5.7zM1529.9 87.8h5.7v5.7h-5.7zM1536.9 74.2h5.7v5.7h-5.7zM1545.2 62.9h5.7v5.7h-5.7zM1549.7 57h5.7v5.7h-5.7zM1554.8 52.5h5.7v5.7h-5.7zM1561.8 49.4h5.7v5.7h-5.7zM1565.6 51h5.7v5.7h-5.7zM1570.7 52.5h5.7v5.7h-5.7zM1577.2 59.1h5.7v5.7h-5.7zM1583.5 69.2h5.7v5.7h-5.7zM1591.8 81.4h5.7v5.7h-5.7zM1598.8 93.5h5.7v5.7h-5.7zM1605.7 105.7h5.7v5.7h-5.7zM1612.7 118.1h5.7v5.7h-5.7zM1350.2 357.5h5.7v5.7h-5.7zM1361.7 351.5h5.7v5.7h-5.7zM1373.2 344.9h5.7v5.7h-5.7zM1383.7 338.3h5.7v5.7h-5.7zM1393.7 330.8h5.7v5.7h-5.7zM1404.2 320.1h5.7v5.7h-5.7zM1413.2 309.1h5.7v5.7h-5.7zM1422.2 298.4h5.7v5.7h-5.7zM1430.4 288.1h5.7v5.7h-5.7zM1439.2 276.4h5.7v5.7h-5.7zM1447.1 264.7h5.7v5.7h-5.7zM1454.4 252.5h5.7v5.7h-5.7zM1461.5 239.5h5.7v5.7h-5.7zM1467.8 227.8h5.7v5.7h-5.7zM1474.2 216.4h5.7v5.7h-5.7zM1480.8 205.5h5.7v5.7h-5.7zM1487.4 190.5h5.7v5.7h-5.7zM1492.5 177.1h5.7v5.7h-5.7zM1497.4 166.6h5.7v5.7h-5.7zM1502.2 157h5.7v5.7h-5.7zM1507.1 145.3h5.7v5.7h-5.7zM1512 132.2h5.7v5.7h-5.7zM1517.6 117.6h5.7v5.7h-5.7z" fill="#000"/>
<path d="M1627.4 126h0M1624.3 121.2h0M1621.2 116.3h0M1618.2 111.3h0M1615.2 106.4h0M1612.1 101.4h0M1609.1 96.6h0M1606.2 91.8h0M1603.2 87.1h0M1600.2 82.6h0M1597.3 78.2h0M1594.3 74h0M1591.4 69.6h0M1588.5 65.1h0M1585.6 60.4h0M1582.8 56.2h0M1579.9 53h0M1577 50.8h0M1574.2 49.3h0M1571.4 48.5h0M1554.7 50.7h0M1552 53.1h0M1549.3 56.1h0M1546.6 59.9h0M1543.9 64.3h0M1541.2 69.2h0M1538.5 74.5h0M1535.8 80.2h0M1533.2 86.1h0M1530.6 92.2h0M1527.9 98.5h0M1525.3 104.8h0M1522.7 111.1h0M1520.1 117.5h0M1517.6 124h0M1515 130.7h0M1512.4 137.5h0M1509.9 144.4h0M1507.4 150.9h0M1504.8 156.9h0M1502.3 162.3h0M1499.8 167.2h0M1497.3 172.2h0M1494.9 177.5h0M1492.4 183.6h0M1489.9 190.2h0M1487.5 196.6h0M1485 202.5h0M1482.6 207.4h0M1480.2 211.6h0M1477.8 215.5h0M1475.4 219.5h0M1473 223.6h0M1470.6 227.8h0M1468.3 232.1h0M1465.9 236.5h0M1463.6 240.9h0M1461.2 245.2h0M1458.9 249.5h0M1456.6 253.7h0M1454.3 257.7h0M1452 261.6h0M1449.7 265.4h0M1447.4 268.9h0M1445.2 272.4h0M1442.9 275.7h0M1440.7 278.9h0M1438.4 282h0M1436.2 285h0M1434 287.9h0M1431.8 290.7h0M1429.6 293.5h0M1427.4 296.3h0M1425.2 299h0M1423 301.7h0M1420.8 304.4h0M1418.7 307h0M1416.5 309.7h0M1414.4 312.3h0M1412.3 315h0M1410.1 317.6h0M1408 320.2h0M1405.9 322.6h0M1403.8 325h0M1401.7 327.3h0M1399.6 329.4h0M1134.5 380.3h0M1133.4 383.8h0M1132.2 387.8h0M1131.1 392.1h0M1129.9 396.4h0M1128.8 400.5h0M1127.7 404.3h0M1126.5 407.7h0M1125.4 410.7h0M1124.3 413.5h0" stroke="#f00" stroke-width="5.80" stroke-linecap="round" fill="none"/>
<path d="M1568.6 48.1h0M1565.8 47.9h0M1563 47.9h0M1560.2 48.3h0M1557.5 49.2h0M1397.6 331.4h0M1395.5 333.2h0M1135.7 377.3h0M1123.1 416.1h0" stroke="#f00" stroke-width="5.90" stroke-linecap="round" fill="none"/>
<path d="M1393.5 334.9h0M1391.4 336.5h0M1389.4 338h0M1191.7 366.9h0M1190.3 369.1h0M1189 371.3h0M1187.7 373.5h0M1122 418.4h0" stroke="#f00" stroke-width="6.00" stroke-linecap="round" fill="none"/>
<path d="M1387.3 339.4h0M1385.3 340.8h0M1383.3 342.1h0M1381.3 343.4h0M1379.3 344.6h0M1377.3 345.9h0M1375.3 347.1h0M1373.3 348.2h0M1227.8 378.9h0M1226.4 377h0M1224.9 375.1h0M1223.5 373.2h0M1222 371.3h0M1220.6 369.4h0M1219.2 367.6h0M1194.3 362.7h0M1193 364.7h0M1186.4 375.6h0M1185 377.6h0M1136.9 374.9h0M1120.9 420.5h0" stroke="#f00" stroke-width="6.10" stroke-linecap="round" fill="none"/>
<path d="M1371.4 349.4h0M1369.4 350.5h0M1367.4 351.6h0M1365.5 352.7h0M1363.5 353.8h0M1361.6 354.9h0M1359.7 355.9h0M1357.8 356.9h0M1355.9 357.9h0M1354 358.9h0M1352.1 359.8h0M1350.2 360.8h0M1232.2 384.1h0M1230.7 382.5h0M1229.3 380.7h0M1217.8 365.8h0M1216.4 364.1h0M1214.9 362.5h0M1195.7 360.8h0M1183.7 379.4h0M1182.4 381.1h0M1119.8 422.4h0" stroke="#f00" stroke-width="6.20" stroke-linecap="round" fill="none"/>
<path d="M1348.3 361.7h0M1346.4 362.6h0M1344.5 363.5h0M1342.7 364.4h0M1340.8 365.3h0M1339 366.1h0M1337.1 367h0M1335.3 367.8h0M1333.5 368.7h0M1331.7 369.5h0M1329.9 370.3h0M1328.1 371.1h0M1326.3 371.9h0M1324.5 372.6h0M1322.7 373.4h0M1320.9 374.2h0M1319.1 374.9h0M1317.4 375.7h0M1315.6 376.4h0M1235.1 387.1h0M1233.6 385.7h0M1213.5 361h0M1212.1 359.6h0M1197 359h0M1181.1 382.6h0M1154.7 380.6h0M1153.5 379h0M1152.3 377.3h0M1151.1 375.6h0M1149.9 374h0M1148.7 372.5h0M1138 372.8h0M1118.7 424.1h0M1117.6 425.8h0M1116.5 427.3h0" stroke="#f00" stroke-width="6.30" stroke-linecap="round" fill="none"/>
<path d="M1313.8 377.1h0M1312.1 377.9h0M1310.4 378.6h0M1308.6 379.3h0M1306.9 380h0M1305.2 380.7h0M1303.5 381.4h0M1301.7 382.1h0M1300 382.8h0M1298.3 383.4h0M1296.7 384.1h0M1295 384.8h0M1293.3 385.5h0M1291.6 386.1h0M1289.9 386.8h0M1288.3 387.4h0M1286.6 388.1h0M1285 388.7h0M1283.3 389.3h0M1281.7 389.8h0M1280.1 390.4h0M1278.4 390.9h0M1239.6 390.6h0M1238.1 389.6h0M1236.6 388.4h0M1210.7 358.3h0M1209.3 357.3h0M1198.4 357.6h0M1179.8 383.9h0M1178.5 385.1h0M1157.2 383.5h0M1155.9 382.1h0M1147.5 371.1h0M1139.2 371.1h0M1115.4 428.8h0M1114.3 430.2h0M1113.2 431.6h0M1112.1 432.9h0" stroke="#f00" stroke-width="6.40" stroke-linecap="round" fill="none"/>
<path d="M1276.8 391.4h0M1275.2 391.9h0M1273.6 392.3h0M1272 392.8h0M1270.4 393.1h0M1268.8 393.5h0M1267.2 393.8h0M1265.6 394h0M1264.1 394.2h0M1262.5 394.4h0M1260.9 394.5h0M1259.4 394.6h0M1257.8 394.7h0M1256.3 394.7h0M1254.7 394.6h0M1253.2 394.6h0M1251.6 394.4h0M1250.1 394.3h0M1248.6 394h0M1247.1 393.7h0M1245.6 393.3h0M1244.1 392.8h0M1242.6 392.2h0M1241.1 391.4h0M1208 356.3h0M1206.6 355.6h0M1199.7 356.4h0M1177.3 386.2h0M1176 387.1h0M1159.6 385.8h0M1158.4 384.7h0M1146.3 370h0M1111 434.2h0M1109.9 435.4h0M1108.8 436.5h0M1107.7 437.7h0M1106.6 438.7h0" stroke="#f00" stroke-width="6.50" stroke-linecap="round" fill="none"/>
<path d="M1205.2 355.2h0M1203.8 355h0M1202.5 355.1h0M1201.1 355.6h0M1174.7 387.8h0M1173.4 388.4h0M1172.1 388.9h0M1170.9 389.2h0M1164.6 388.7h0M1163.3 388.2h0M1162.1 387.5h0M1160.8 386.7h0M1145.1 369.1h0M1140.4 369.8h0M1105.6 439.8h0M1104.5 440.7h0M1103.4 441.7h0M1102.4 442.6h0M1101.3 443.5h0M1100.2 444.3h0M1099.2 445.1h0M1098.1 445.9h0" stroke="#f00" stroke-width="6.60" stroke-linecap="round" fill="none"/>
<path d="M1169.6 389.4h0M1168.3 389.4h0M1167.1 389.3h0M1165.8 389.1h0M1143.9 368.6h0M1142.7 368.6h0M1141.5 369h0M1097.1 446.6h0M1096 447.3h0M1095 448h0M1094 448.6h0M1092.9 449.3h0M1091.9 449.9h0M1090.8 450.4h0M1089.8 451h0M1088.8 451.5h0M1087.8 452h0M1086.7 452.5h0M1085.7 453h0M1084.7 453.4h0" stroke="#f00" stroke-width="6.70" stroke-linecap="round" fill="none"/>
<path d="M1083.7 453.9h0M1082.7 454.3h0M1081.7 454.7h0M1080.7 455h0M1079.7 455.4h0M1078.7 455.8h0M1077.7 456.1h0M1076.7 456.4h0M1075.7 456.7h0M1074.7 457h0M1073.7 457.3h0M1072.7 457.6h0M1071.8 457.8h0M1070.8 458.1h0M1069.8 458.3h0M1068.8 458.6h0M1067.9 458.8h0M1066.9 459h0M1065.9 459.2h0M1065 459.4h0M1064 459.6h0M1063.1 459.8h0M1062.1 460h0M1061.2 460.2h0M1060.2 460.4h0M1059.3 460.5h0M1058.3 460.7h0M1057.4 460.9h0M1056.4 461.1h0M1055.5 461.2h0M1054.6 461.4h0M1053.6 461.5h0M1052.7 461.7h0M1051.8 461.8h0M1050.9 462h0M1050 462.1h0M1049 462.2h0M1048.1 462.4h0M1047.2 462.5h0M1046.3 462.6h0M1045.4 462.8h0M1044.5 462.9h0M1043.6 463h0M1042.7 463.1h0M1041.8 463.2h0M1040.9 463.3h0M1040 463.5h0" stroke="#f00" stroke-width="6.80" stroke-linecap="round" fill="none"/>
<path d="M1039.1 463.6h0M1038.2 463.7h0M1037.3 463.8h0M1036.4 463.9h0M1035.5 464h0M1034.7 464.1h0M1033.8 464.2h0M1032.9 464.3h0M1032 464.4h0M1031.2 464.5h0M1030.3 464.6h0M1029.4 464.7h0M1028.6 464.8h0M1027.7 464.9h0M1026.8 465h0M1026 465h0M1025.1 465.1h0M1024.3 465.2h0M1023.4 465.3h0M1022.6 465.4h0M1021.7 465.5h0M1020.9 465.6h0M1020 465.7h0M1019.2 465.8h0M1018.3 465.9h0M1017.5 466h0M1016.7 466.1h0M1015.8 466.1h0M1015 466.2h0M1014.2 466.3h0" stroke="#f00" stroke-width="6.90" stroke-linecap="round" fill="none"/>
<path d="M1627.4 123l4.4 7.6h-8.8zM1624.3 117.8l4.4 7.6h-8.8zM1621.2 112.6l4.4 7.6h-8.8zM1618.2 107.5l4.4 7.6h-8.8zM1615.2 102.3l4.4 7.6h-8.8zM1612.1 97.3l4.4 7.6h-8.8zM1609.1 92.3l4.4 7.6h-8.8zM1606.2 87.5l4.4 7.6h-8.8zM1603.2 82.9l4.4 7.6h-8.8zM1600.2 78.4l4.4 7.6h-8.8zM1597.3 74.2l4.4 7.6h-8.8zM1594.3 70.3l4.4 7.6h-8.8zM1591.4 66.7l4.4 7.6h-8.8zM1588.5 63.5l4.4 7.6h-8.8zM1585.6 60.7l4.4 7.6h-8.8zM1582.8 58.4l4.4 7.6h-8.8zM1579.9 56.6l4.4 7.6h-8.8zM1577 55.4l4.4 7.6h-8.8zM1574.2 54.8l4.4 7.7h-8.8zM1571.4 54.9l4.4 7.7h-8.9zM1568.6 55.8l4.4 7.6h-8.8zM1565.8 57.3l4.4 7.6h-8.8zM1563 59.5l4.4 7.6h-8.8zM1560.2 62.4l4.4 7.6h-8.8zM1557.5 66.1l4.4 7.6h-8.8zM1554.7 70.3l4.4 7.6h-8.8zM1552 75.3l4.4 7.6h-8.8zM1549.3 80.9l4.4 7.6h-8.8zM1546.6 87.1l4.4 7.6h-8.8zM1543.9 93.6l4.4 7.6h-8.8zM1541.2 100.6l4.4 7.6h-8.8zM1538.5 107.8l4.4 7.6h-8.8zM1535.8 115.2l4.4 7.6h-8.8zM1533.2 122.7l4.4 7.6h-8.8zM1530.6 130.2l4.4 7.6h-8.8zM1527.9 137.8l4.4 7.6h-8.8zM1525.3 145.5l4.4 7.6h-8.8zM1522.7 153.2l4.4 7.6h-8.8zM1520.1 160.9l4.4 7.6h-8.8zM1517.6 168.7l4.4 7.6h-8.8zM1515 176.5l4.4 7.6h-8.8zM1512.4 184.2l4.4 7.6h-8.8zM1509.9 191.8l4.4 7.6h-8.8zM1507.4 199.2l4.4 7.6h-8.8zM1504.8 206.4l4.4 7.6h-8.8zM1502.3 213.3l4.4 7.6h-8.8zM1499.8 220.1l4.4 7.6h-8.8zM1497.3 226.6l4.4 7.6h-8.8zM1494.9 232.9l4.4 7.6h-8.8zM1492.4 239l4.4 7.6h-8.8zM1489.9 244.9l4.4 7.6h-8.8zM1487.5 250.5l4.4 7.6h-8.8zM1485 255.9l4.4 7.6h-8.8zM1482.6 261.1l4.4 7.6h-8.8zM1480.2 266l4.4 7.6h-8.8zM1477.8 270.7l4.4 7.6h-8.8zM1475.4 275.1l4.4 7.6h-8.8zM1473 279.3l4.4 7.6h-8.8zM1470.6 283.3l4.4 7.6h-8.8zM1468.3 287.1l4.4 7.6h-8.8zM1465.9 290.6l4.4 7.6h-8.8zM1463.6 294l4.4 7.6h-8.8zM1461.2 297.3l4.4 7.6h-8.8zM1458.9 300.4l4.4 7.6h-8.8zM1456.6 303.4l4.4 7.6h-8.8zM1454.3 306.4l4.4 7.6h-8.8zM1452 309.3l4.4 7.6h-8.8zM1449.7 312.1l4.4 7.6h-8.8zM1447.4 314.8l4.4 7.6h-8.8zM1445.2 317.5l4.4 7.6h-8.8zM1442.9 320.1l4.4 7.6h-8.8zM1440.7 322.7l4.4 7.6h-8.8zM1438.4 325.2l4.4 7.6h-8.8zM1436.2 327.6l4.4 7.6h-8.8zM1434 330l4.4 7.6h-8.8zM1431.8 332.3l4.4 7.6h-8.8zM1429.6 334.6l4.4 7.6h-8.8zM1427.4 336.8l4.4 7.6h-8.8zM1425.2 338.9l4.4 7.6h-8.8zM1423 341l4.4 7.6h-8.8zM1420.8 343l4.4 7.6h-8.8zM1418.7 344.9l4.4 7.6h-8.8zM1416.5 346.8l4.4 7.7h-8.8zM1414.4 348.6l4.4 7.7h-8.9zM1412.3 350.4l4.4 7.7h-8.9zM1410.1 352.1l4.4 7.7h-8.9zM1408 353.8l4.5 7.7h-8.9zM1405.9 355.4l4.5 7.8h-8.9zM1403.8 357l4.5 7.8h-8.9zM1401.7 358.5l4.5 7.8h-9zM1399.6 360l4.5 7.8h-9zM1397.6 361.4l4.5 7.8h-9zM1395.5 362.8l4.5 7.9h-9zM1393.5 364.1l4.5 7.9h-9zM1391.4 365.4l4.5 7.9h-9zM1389.4 366.6l4.5 7.9h-9zM1387.3 367.8l4.5 7.9h-9zM1385.3 369l4.5 7.9h-9zM1383.3 370.1l4.5 7.9h-9.1zM1381.3 371.2l4.5 8h-9.1zM1379.3 372.2l4.5 8h-9.1zM1377.3 373.3l4.5 8h-9.1zM1375.3 374.3l4.5 8h-9.1zM1373.3 375.2l4.5 8h-9.1zM1371.4 376.2l4.5 8h-9.1zM1369.4 377.1l4.6 8h-9.1zM1367.4 378l4.6 8h-9.1zM1365.5 378.9l4.6 8h-9.1zM1363.5 379.7l4.6 8h-9.1zM1361.6 380.5l4.6 8h-9.1zM1359.7 381.4l4.6 8.1h-9.1zM1357.8 382.2l4.6 8.1h-9.1zM1355.9 383l4.6 8.1h-9.1zM1354 383.7l4.6 8.1h-9.1zM1352.1 384.5l4.6 8.1h-9.1zM1350.2 385.2l4.6 8.1h-9.2zM1348.3 386l4.6 8.1h-9.2zM1346.4 386.7l4.6 8.1h-9.2zM1344.5 387.4l4.6 8.1h-9.2zM1342.7 388.2l4.6 8.1h-9.2zM1340.8 388.9l4.6 8.1h-9.2zM1339 389.6l4.6 8.1h-9.2zM1337.1 390.3l4.6 8.1h-9.2zM1335.3 390.9l4.6 8.1h-9.2zM1333.5 391.6l4.6 8.1h-9.2zM1331.7 392.3l4.6 8.1h-9.2zM1329.9 392.9l4.6 8.1h-9.2zM1328.1 393.6l4.6 8.1h-9.2zM1326.3 394.2l4.6 8.1h-9.2zM1324.5 394.8l4.6 8.2h-9.2zM1322.7 395.4l4.6 8.2h-9.2zM1320.9 396l4.6 8.2h-9.2zM1319.1 396.6l4.6 8.2h-9.2zM1317.4 397.2l4.6 8.2h-9.2zM1315.6 397.8l4.6 8.2h-9.2zM1313.8 398.3l4.6 8.2h-9.2zM1312.1 398.9l4.6 8.2h-9.2zM1310.4 399.4l4.6 8.2h-9.2zM1308.6 399.9l4.6 8.2h-9.2zM1306.9 400.4l4.6 8.2h-9.2zM1305.2 400.9l4.6 8.2h-9.2zM1303.5 401.4l4.6 8.2h-9.2zM1301.7 401.9l4.6 8.2h-9.2zM1300 402.3l4.6 8.2h-9.2zM1298.3 402.8l4.6 8.2h-9.3zM1296.7 403.2l4.6 8.2h-9.3zM1295 403.6l4.6 8.2h-9.3zM1293.3 404l4.6 8.2h-9.3zM1291.6 404.4l4.6 8.2h-9.3zM1289.9 404.8l4.6 8.2h-9.3zM1288.3 405.2l4.6 8.2h-9.3zM1286.6 405.5l4.6 8.3h-9.3zM1285 405.9l4.6 8.3h-9.3zM1283.3 406.2l4.6 8.3h-9.3zM1281.7 406.5l4.6 8.3h-9.3zM1280.1 406.8l4.6 8.3h-9.3zM1278.4 407l4.6 8.3h-9.3zM1276.8 407.3l4.6 8.3h-9.3zM1275.2 407.5l4.6 8.3h-9.3zM1273.6 407.7l4.7 8.3h-9.3zM1272 407.9l4.7 8.3h-9.3zM1270.4 408.1l4.7 8.3h-9.3zM1268.8 408.2l4.7 8.3h-9.3zM1267.2 408.4l4.7 8.3h-9.3zM1265.6 408.5l4.7 8.3h-9.3zM1264.1 408.5l4.7 8.3h-9.3zM1262.5 408.6l4.7 8.3h-9.3zM1260.9 408.6l4.7 8.3h-9.3zM1259.4 408.5l4.7 8.3h-9.3zM1257.8 408.5l4.7 8.3h-9.3zM1256.3 408.4l4.7 8.3h-9.3zM1254.7 408.2l4.7 8.3h-9.3zM1253.2 408l4.7 8.3h-9.3zM1251.6 407.7l4.7 8.3h-9.3zM1250.1 407.4l4.7 8.3h-9.3zM1248.6 407l4.7 8.3h-9.3zM1247.1 406.6l4.7 8.3h-9.3zM1245.6 406.1l4.7 8.3h-9.3zM1244.1 405.5l4.7 8.3h-9.3zM1242.6 404.8l4.6 8.3h-9.3zM1241.1 404.1l4.6 8.3h-9.3zM1239.6 403.3l4.6 8.2h-9.3zM1238.1 402.3l4.6 8.2h-9.3zM1236.6 401.3l4.6 8.2h-9.2zM1235.1 400.1l4.6 8.2h-9.2zM1233.6 398.8l4.6 8.1h-9.2zM1232.2 397.4l4.6 8.1h-9.1zM1230.7 395.8l4.6 8h-9.1zM1229.3 394.1l4.5 8h-9.1zM1227.8 392.2l4.5 7.9h-9zM1226.4 390.1l4.5 7.8h-9zM1224.9 387.9l4.5 7.8h-8.9zM1223.5 385.6l4.5 7.7h-8.9zM1222 383.4l4.5 7.8h-8.9zM1220.6 381.3l4.5 7.8h-9zM1219.2 379.4l4.5 7.9h-9zM1217.8 377.6l4.5 8h-9.1zM1216.4 376l4.6 8h-9.1zM1214.9 374.5l4.6 8.1h-9.2zM1213.5 373.2l4.6 8.1h-9.2zM1212.1 372l4.6 8.2h-9.2zM1210.7 370.9l4.6 8.2h-9.2zM1209.3 370l4.6 8.3h-9.3zM1208 369.4l4.7 8.4h-9.4zM1206.6 369.4l4.7 8.4h-9.4zM1205.2 370.1l4.7 8.3h-9.3zM1203.8 371.3l4.6 8.2h-9.2zM1202.5 372.8l4.6 8.1h-9.2zM1201.1 374.6l4.5 8h-9.1zM1199.7 376.5l4.5 7.9h-9.1zM1198.4 378.5l4.5 7.9h-9zM1197 380.6l4.5 7.9h-9zM1195.7 382.8l4.5 7.8h-9zM1194.3 385l4.5 7.8h-9zM1193 387.2l4.5 7.8h-8.9zM1191.7 389.4l4.5 7.8h-8.9zM1190.3 391.6l4.5 7.8h-9zM1189 393.7l4.5 7.8h-9zM1187.7 395.7l4.5 7.9h-9zM1186.4 397.6l4.5 7.9h-9zM1185 399.4l4.5 8h-9.1zM1183.7 401.1l4.6 8h-9.1zM1182.4 402.6l4.6 8.1h-9.2zM1181.1 403.9l4.6 8.2h-9.2zM1179.8 405.1l4.6 8.2h-9.2zM1178.5 406.1l4.6 8.3h-9.3zM1177.3 406.9l4.7 8.3h-9.3zM1176 407.5l4.7 8.4h-9.4zM1174.7 407.8l4.7 8.4h-9.4zM1173.4 408l4.7 8.5h-9.4zM1172.1 407.9l4.7 8.5h-9.4zM1170.9 407.7l4.7 8.5h-9.4zM1169.6 407.3l4.7 8.4h-9.4zM1168.3 406.9l4.7 8.4h-9.4zM1167.1 406.5l4.7 8.4h-9.4zM1165.8 406.2l4.7 8.4h-9.4zM1164.6 405.8l4.7 8.4h-9.4zM1163.3 405.3l4.7 8.4h-9.4zM1162.1 404.7l4.7 8.4h-9.4zM1160.8 403.9l4.7 8.4h-9.4zM1159.6 403l4.7 8.3h-9.3zM1158.4 401.8l4.6 8.2h-9.3zM1157.2 400.4l4.6 8.1h-9.2zM1155.9 398.7l4.6 8.1h-9.1zM1154.7 396.9l4.5 8h-9.1zM1153.5 394.9l4.5 7.9h-9zM1152.3 392.9l4.5 7.9h-9zM1151.1 391.2l4.6 8.1h-9.1zM1149.9 389.9l4.6 8.3h-9.3zM1148.7 389.3l4.7 8.4h-9.4zM1147.5 389.1l4.7 8.5h-9.5zM1146.3 389.5l4.7 8.5h-9.4zM1145.1 390.3l4.7 8.4h-9.4zM1143.9 391.5l4.7 8.3h-9.3zM1142.7 392.9l4.6 8.2h-9.2zM1141.5 394.6l4.6 8.1h-9.2zM1140.4 396.5l4.5 8h-9.1zM1139.2 398.5l4.5 7.9h-9zM1138 400.8l4.5 7.8h-9zM1136.9 403.4l4.4 7.7h-8.9zM1135.7 406.5l4.4 7.6h-8.8zM1134.5 410.1l4.4 7.6h-8.8zM1133.4 414.2l4.4 7.6h-8.8zM1132.2 418.7l4.4 7.6h-8.8zM1131.1 423.4l4.4 7.6h-8.8zM1129.9 427.9l4.4 7.6h-8.8zM1128.8 431.9l4.4 7.6h-8.8zM1127.7 435.4l4.4 7.6h-8.8zM1126.5 438.5l4.4 7.6h-8.8zM1125.4 441.3l4.4 7.6h-8.8zM1124.3 443.6l4.5 7.8h-8.9zM1123.1 445.7l4.5 7.9h-9zM1122 447.5l4.6 8h-9.1zM1120.9 449.1l4.6 8.1h-9.2zM1119.8 450.5l4.6 8.2h-9.2zM1118.7 451.7l4.6 8.3h-9.3zM1117.6 452.8l4.7 8.3h-9.3zM1116.5 453.9l4.7 8.3h-9.3zM1115.4 454.9l4.7 8.4h-9.4zM1114.3 455.8l4.7 8.4h-9.4zM1113.2 456.7l4.7 8.4h-9.4zM1112.1 457.5l4.7 8.4h-9.4zM1111 458.3l4.7 8.4h-9.4zM1109.9 459.1l4.7 8.4h-9.4zM1108.8 459.8l4.7 8.4h-9.4zM1107.7 460.5l4.7 8.5h-9.4zM1106.6 461.2l4.7 8.5h-9.4zM1105.6 461.8l4.7 8.5h-9.4zM1104.5 462.4l4.7 8.5h-9.4zM1103.4 463l4.7 8.5h-9.5zM1102.4 463.5l4.7 8.5h-9.5zM1101.3 464l4.7 8.5h-9.5zM1100.2 464.5l4.7 8.5h-9.5zM1099.2 464.9l4.7 8.5h-9.5zM1098.1 465.4l4.7 8.5h-9.5zM1097.1 465.8l4.7 8.5h-9.5zM1096 466.1l4.7 8.5h-9.5zM1095 466.5l4.7 8.5h-9.5zM1094 466.8l4.7 8.6h-9.5zM1092.9 467.1l4.7 8.6h-9.5zM1091.9 467.4l4.7 8.6h-9.5zM1090.8 467.7l4.8 8.6h-9.5zM1089.8 468l4.8 8.6h-9.5zM1088.8 468.2l4.8 8.6h-9.5zM1087.8 468.4l4.8 8.6h-9.5zM1086.7 468.6l4.8 8.6h-9.5zM1085.7 468.8l4.8 8.6h-9.5zM1084.7 469l4.8 8.6h-9.5zM1083.7 469.2l4.8 8.6h-9.5zM1082.7 469.3l4.8 8.6h-9.5zM1081.7 469.5l4.8 8.6h-9.5zM1080.7 469.6l4.8 8.6h-9.5zM1079.7 469.7l4.8 8.6h-9.5zM1078.7 469.9l4.8 8.6h-9.5zM1077.7 470l4.8 8.6h-9.5zM1076.7 470.1l4.8 8.6h-9.5zM1075.7 470.2l4.8 8.6h-9.5zM1074.7 470.2l4.8 8.6h-9.5zM1073.7 470.3l4.8 8.6h-9.5zM1072.7 470.4l4.8 8.6h-9.5zM1071.8 470.5l4.8 8.6h-9.5zM1070.8 470.5l4.8 8.6h-9.5zM1069.8 470.6l4.8 8.6h-9.5zM1068.8 470.6l4.8 8.6h-9.5zM1067.9 470.7l4.8 8.6h-9.5zM1066.9 470.8l4.8 8.6h-9.5zM1065.9 470.8l4.8 8.6h-9.5zM1065 470.9l4.8 8.6h-9.5zM1064 470.9l4.8 8.6h-9.5zM1063.1 471l4.8 8.6h-9.5zM1062.1 471l4.8 8.6h-9.5zM1061.2 471.1l4.8 8.6h-9.5zM1060.2 471.1l4.8 8.6h-9.5zM1059.3 471.2l4.8 8.6h-9.5zM1058.3 471.3l4.8 8.6h-9.5zM1057.4 471.3l4.8 8.6h-9.5zM1056.4 471.4l4.8 8.6h-9.5zM1055.5 471.4l4.8 8.6h-9.5zM1054.6 471.5l4.8 8.6h-9.6zM1053.6 471.6l4.8 8.6h-9.6zM1052.7 471.6l4.8 8.6h-9.6zM1051.8 471.7l4.8 8.6h-9.6zM1050.9 471.7l4.8 8.6h-9.6zM1050 471.8l4.8 8.6h-9.6zM1049 471.9l4.8 8.6h-9.6zM1048.1 471.9l4.8 8.6h-9.6zM1047.2 472l4.8 8.6h-9.6zM1046.3 472l4.8 8.6h-9.6zM1045.4 472.1l4.8 8.6h-9.6zM1044.5 472.2l4.8 8.6h-9.6zM1043.6 472.2l4.8 8.6h-9.6zM1042.7 472.3l4.8 8.6h-9.6zM1041.8 472.3l4.8 8.6h-9.6zM1040.9 472.4l4.8 8.7h-9.6zM1040 472.4l4.8 8.7h-9.6zM1039.1 472.5l4.8 8.7h-9.6zM1038.2 472.6l4.8 8.7h-9.6zM1037.3 472.6l4.8 8.7h-9.6zM1036.4 472.7l4.8 8.7h-9.6zM1035.5 472.7l4.8 8.7h-9.6zM1034.7 472.8l4.8 8.7h-9.6zM1033.8 472.8l4.8 8.7h-9.6zM1032.9 472.9l4.8 8.7h-9.6zM1032 472.9l4.8 8.7h-9.6zM1031.2 473l4.8 8.7h-9.6zM1030.3 473.1l4.8 8.7h-9.6zM1029.4 473.1l4.8 8.7h-9.6zM1028.6 473.2l4.8 8.7h-9.6zM1027.7 473.2l4.8 8.7h-9.6zM1026.8 473.3l4.8 8.7h-9.6zM1026 473.3l4.8 8.7h-9.6zM1025.1 473.3l4.8 8.7h-9.6zM1024.3 473.4l4.8 8.7h-9.6zM1023.4 473.4l4.8 8.7h-9.6zM1022.6 473.5l4.8 8.7h-9.6zM1021.7 473.5l4.8 8.7h-9.6zM1020.9 473.6l4.8 8.7h-9.6zM1020 473.6l4.8 8.7h-9.6zM1019.2 473.6l4.8 8.7h-9.6zM1018.3 473.7l4.8 8.7h-9.6zM1017.5 473.7l4.8 8.7h-9.6zM1016.7 473.7l4.8 8.7h-9.6zM1015.8 473.8l4.8 8.7h-9.6zM1015 473.8l4.8 8.7h-9.6z" fill="#00f"/>
</g>
<g font-family="'Liberation Sans', Arial, sans-serif" font-weight="bold" font-size="28.9px" fill="#000">
<text transform="translate(990.6 560.2) rotate(0.1) scale(1 1.0)" text-anchor="middle">1.5</text>
<text transform="translate(1202.6 560.2) rotate(0.1) scale(1 1.0)" text-anchor="middle">2.0</text>
<text transform="translate(1414.5 560.2) rotate(0.1) scale(1 1.0)" text-anchor="middle">2.5</text>
<text transform="translate(1626.5 560.2) rotate(0.1) scale(1 1.0)" text-anchor="middle">3.0</text>
<text transform="translate(958.2 442.6) rotate(0.1) scale(1 1.0)" text-anchor="end">0.04</text>
<text transform="translate(958.2 269.5) rotate(0.1) scale(1 1.0)" text-anchor="end">0.06</text>
<text transform="translate(958.2 96.3) rotate(0.1) scale(1 1.0)" text-anchor="end">0.08</text>
</g>
<rect x="139.6" y="75.9" width="425.7" height="116.1" fill="#fff" stroke="#555" stroke-width="1.1"/>
<path d="M173.1 96h6.6v6.6h-6.6z" fill="#000"/>
<path d="M176.6 136.1h0" stroke="#f00" stroke-width="6.40" stroke-linecap="round" fill="none"/>
<path d="M176.9 168.9l4.4 8h-8.8z" fill="#00f"/>
<g font-family="'Liberation Serif', 'Times New Roman', serif" font-weight="bold" font-size="29.85px" fill="#000">
<text transform="translate(209.8 107.3) rotate(0.1) scale(1 1.0)">Experiment result from Li</text>
<text transform="translate(209.8 145) rotate(0.1) scale(1 1.0)">Thin film model simulation</text>
<text transform="translate(209.8 182.7) rotate(0.1) scale(1 1.0)">Interface model simulation</text>
</g>
<rect x="1013.1" y="90.5" width="433.1" height="116.5" fill="#fff" stroke="#555" stroke-width="1.1"/>
<path d="M1050.8 110.6h6.6v6.6h-6.6z" fill="#000"/>
<path d="M1054.3 150.7h0" stroke="#f00" stroke-width="6.40" stroke-linecap="round" fill="none"/>
<path d="M1054.6 183.5l4.4 8h-8.8z" fill="#00f"/>
<g font-family="'Liberation Serif', 'Times New Roman', serif" font-weight="bold" font-size="29.85px" fill="#000">
<text transform="translate(1087.4 121.9) rotate(0.1) scale(1 1.0)">Experiment result from Li</text>
<text transform="translate(1087.4 159.6) rotate(0.1) scale(1 1.0)">Thin film model simulation</text>
<text transform="translate(1087.4 197.3) rotate(0.1) scale(1 1.0)">Interface model simulation</text>
</g>
<g font-family="'Liberation Sans', Arial, sans-serif" font-size="37.5px" fill="#000" letter-spacing="0.8">
<text transform="translate(8 30) rotate(0.1)">(a)</text><text transform="translate(850.5 27.1) rotate(0.1)">(b)</text></g>
<g font-family="'Liberation Serif', 'Times New Roman', serif" font-weight="bold" font-size="38.8px" fill="#000">
<text transform="translate(284.6 618.4) rotate(0.1) scale(1 1.02)" font-size="38.9px">Photon Energy (eV)</text>
<text transform="translate(1135.3 607.2) rotate(0.1) scale(1 1.02)" font-size="38.9px">Photon Energy (eV)</text>
<text transform="translate(26.7 454.8) rotate(-90) scale(1 1.02)">MoSe<tspan font-size="23.5px" dy="14.2">2</tspan><tspan dy="-14.2"> Reflctance</tspan></text>
<text transform="translate(880 459.9) rotate(-90) scale(1 1.02)">MoS<tspan dy="9.1">2</tspan><tspan dy="-9.1"> Reflectance</tspan></text>
</g>
</svg></body></html>
